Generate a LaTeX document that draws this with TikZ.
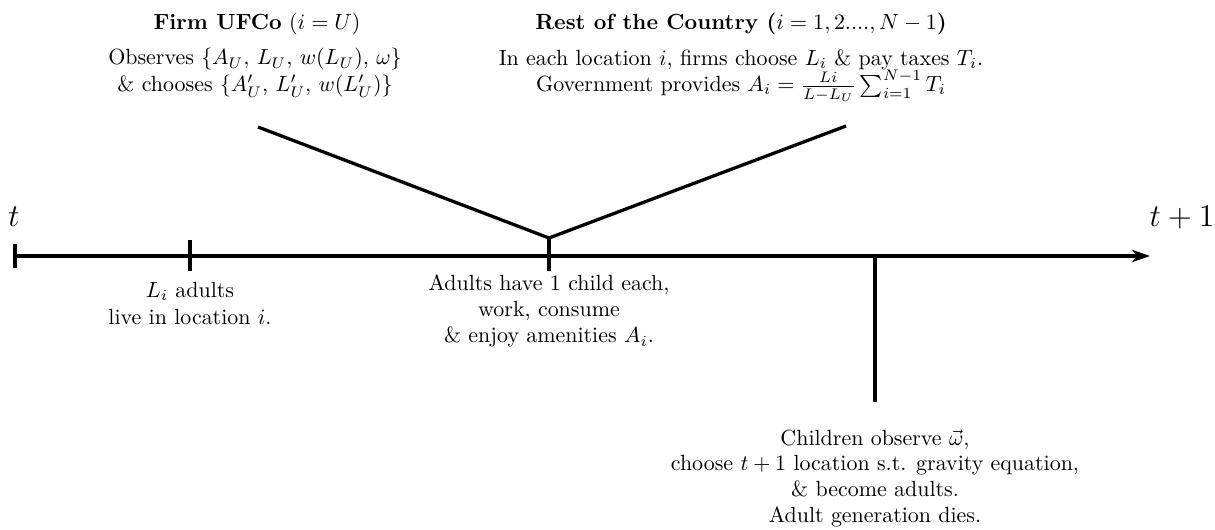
\documentclass[tikz,border=0pt]{standalone}
\usepackage{amsmath}
\usetikzlibrary{arrows.meta}
\begin{document}
\begin{tikzpicture}[x=0.4556pt,y=-0.4556pt,
  ln/.style={line width=1.5pt},
  txt/.style={inner sep=0pt,align=center},
  big/.style={inner sep=0pt,font=\Large}]
\useasboundingbox (0,0) rectangle (1215,529);
% timeline
\coordinate (start) at (15,256);
\coordinate (end) at (1150,256);
\draw[ln,-{Stealth[length=8pt,width=5.5pt,inset=2pt]}] (start) -- (end);
\coordinate (t0a) at (15,244);
\coordinate (t0b) at (15,268);
\draw[ln] (t0a) -- (t0b);
\coordinate (t1a) at (190,240);
\coordinate (t1b) at (190,271);
\draw[ln] (t1a) -- (t1b);
\coordinate (yj) at (549,238);
\coordinate (t2b) at (549,271);
\draw[ln] (yj) -- (t2b);
\coordinate (ul) at (258,127);
\coordinate (ur) at (846,126);
\draw[ln] (ul) -- (yj) -- (ur);
\coordinate (t3a) at (875,256);
\coordinate (t3b) at (875,402);
\draw[ln] (t3a) -- (t3b);
% labels
\node[big,anchor=base] (lt) at (14,226) {$t$};
\node[big,anchor=base] (lt1) at (1182,226) {$t+1$};
\node[txt,anchor=base] (firmt) at (257,29) {\textbf{Firm UFCo} ($i=U$)};
\node[txt,anchor=north] (firm) at (255,48) {Observes $\{A_U,\, L_U,\, w(L_U),\, \omega\}$\\ \& chooses $\{A'_U,\, L'_U,\, w(L'_U)\}$};
\node[txt,anchor=base] (restt) at (741,29) {\textbf{Rest of the Country ($i=1,2....,N-1$)}};
\node[txt,anchor=north] (rest) at (741,49) {In each location $i$, firms choose $L_i$ \& pay taxes $T_i$.\\ Government provides $A_i=\frac{Li}{L-L_U}\sum_{i=1}^{N-1}T_i$};
\node[txt,anchor=north] (la) at (190,282) {$L_i$ adults\\ live in location $i$.};
\node[txt,anchor=north] (ad) at (549,274) {Adults have 1 child each,\\ work, consume\\ \& enjoy amenities $A_i$.};
\node[txt,anchor=north] (ch) at (875,429) {Children observe $\vec{\omega}$,\\[-0.3pt] choose $t+1$ location s.t. gravity equation,\\[-0.3pt] \& become adults.\\[-0.3pt] Adult generation dies.};
\end{tikzpicture}
\end{document}
